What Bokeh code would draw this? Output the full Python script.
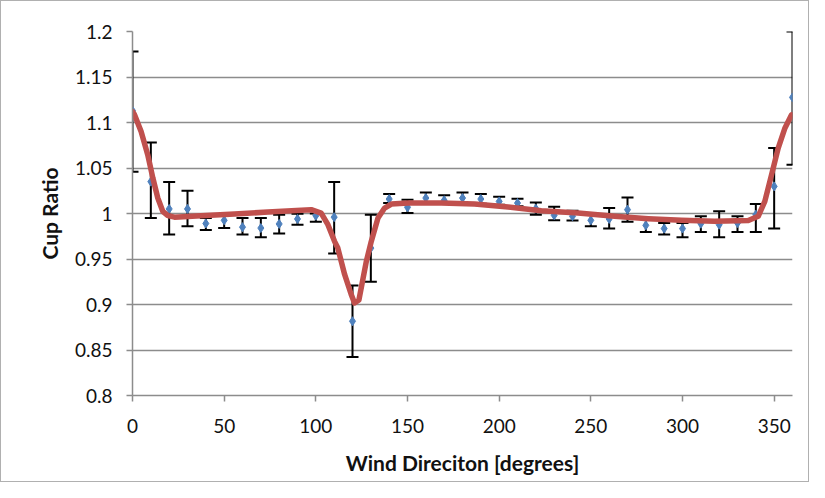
from bokeh.plotting import figure
from bokeh.models import ColumnDataSource, Whisker, TeeHead, FixedTicker, Range1d
from bokeh.embed import file_html
from bokeh.resources import INLINE

# measured points (wind direction, cup ratio, error bar upper/lower)
direction = [0, 10, 20, 30, 40, 50, 60, 70, 80, 90, 100, 110, 120, 130, 140, 150, 160, 170, 180,
             190, 200, 210, 220, 230, 240, 250, 260, 270, 280, 290, 300, 310, 320, 330, 340, 350, 360]
ratio = [1.113, 1.035, 1.005, 1.005, 0.989, 0.9925, 0.985, 0.984, 0.9885, 0.994, 0.9976, 0.996, 0.8816,
         0.962, 1.0159, 1.0068, 1.017, 1.0145, 1.017, 1.0159, 1.0133, 1.0115, 1.0053, 0.998, 0.9969,
         0.9925, 0.994, 1.0042, 0.987, 0.9834, 0.9834, 0.9888, 0.9877, 0.9895, 0.9987, 1.0298, 1.1276]
err_upper = [1.178, 1.078, 1.0345, 1.025, 0.995, 0.9987, 0.995, 0.995, 0.9987, 0.9998, 1.0, 1.0345, 0.921,
             0.9987, 1.0214, 1.0152, 1.023, 1.02, 1.023, 1.0214, 1.0185, 1.0163, 1.012, 1.0075, 1.0031,
             0.9987, 1.006, 1.0177, 0.995, 0.9895, 0.9895, 0.9969, 1.0024, 0.9969, 1.0104, 1.0719, 1.2]
err_lower = [1.046, 0.995, 0.977, 0.986, 0.982, 0.984, 0.977, 0.974, 0.978, 0.9877, 0.991, 0.956, 0.8424,
             0.925, 1.0115, 1.0005, 1.0126, 1.0115, 1.0115, 1.0108, 1.0097, 1.0079, 0.9987, 0.9925, 0.9922,
             0.9859, 0.9834, 0.991, 0.9797, 0.9768, 0.974, 0.9797, 0.974, 0.9797, 0.9797, 0.9834, 1.0536]

# fitted curve
fit_dir = [0, 1, 4.7, 8.3, 11.1, 13.8, 16.5, 19.3, 22.9, 37.4, 55.6, 73.8, 92, 97.5, 102.9, 106.6, 110.2,
           112, 115.7, 119.3, 121.1, 123.5, 127.5, 130.2, 133.9, 137.5, 141.2, 150.3, 168.4, 186.6,
           204.9, 223, 243, 263, 281.3, 299.5, 317.6, 335.9, 341.3, 344.9, 348.6, 352.2, 355.9, 359.5]
fit_ratio = [1.112, 1.109, 1.090, 1.0646, 1.039, 1.017, 1.0024, 0.9976, 0.996, 0.9976, 0.9994, 1.0016,
             1.0035, 1.0042, 1.0005, 0.9877, 0.9694, 0.962, 0.933, 0.911, 0.9017, 0.905, 0.947, 0.969,
             0.995, 1.006, 1.0104, 1.0115, 1.0115, 1.0104, 1.0071, 1.0031, 1.0005, 0.9969, 0.9943,
             0.9925, 0.9914, 0.9922, 0.9969, 1.0133, 1.0427, 1.0719, 1.094, 1.1085]

x_ticks = [0, 50, 100, 150, 200, 250, 300, 350]
y_ticks = [0.8, 0.85, 0.9, 0.95, 1.0, 1.05, 1.1, 1.15, 1.2]
y_tick_labels = ["0.8", "0.85", "0.9", "0.95", "1", "1.05", "1.1", "1.15", "1.2"]

FONT = "Lato"
GRID = "#8c8c8c"

p = figure(width=809, height=482, output_backend="svg", toolbar_location=None,
           x_range=Range1d(0, 360), y_range=Range1d(0.8, 1.2),
           min_border_left=131, min_border_right=18, min_border_top=30, min_border_bottom=88,
           styles={"border": "1px solid #b0b0b0", "box-sizing": "border-box"})
p.outline_line_color = None
p.background_fill_color = "white"
p.border_fill_color = "white"

p.xgrid.grid_line_color = None
p.ygrid.grid_line_color = GRID
p.ygrid.grid_line_width = 1.5

p.xaxis.ticker = FixedTicker(ticks=x_ticks)
p.yaxis.ticker = FixedTicker(ticks=y_ticks)
p.yaxis.major_label_overrides = {t: l for t, l in zip(y_ticks, y_tick_labels)}
p.xaxis.minor_tick_line_color = None
p.yaxis.minor_tick_line_color = None
for ax in (p.xaxis, p.yaxis):
    ax.axis_line_color = GRID
    ax.axis_line_width = 1.5
    ax.major_tick_line_color = GRID
    ax.major_tick_line_width = 1.5
    ax.major_tick_out = 6
    ax.major_tick_in = 0
    ax.major_label_text_font = FONT
    ax.major_label_text_font_size = "19px"
    ax.major_label_text_color = "#111111"
    ax.axis_label_text_font = FONT
    ax.axis_label_text_font_size = "21px"
    ax.axis_label_text_font_style = "bold"
    ax.axis_label_text_color = "#111111"
p.xaxis.major_label_standoff = 17
p.yaxis.major_label_standoff = 14
p.xaxis.axis_label = "Wind Direciton [degrees]"
p.yaxis.axis_label = "Cup Ratio"
p.xaxis.axis_label_standoff = 14
p.yaxis.axis_label_standoff = 10

src = ColumnDataSource(dict(x=direction, y=ratio, upper=err_upper, lower=err_lower))

whisk = Whisker(base="x", upper="upper", lower="lower", source=src, dimension="height",
                line_color="black", line_width=2,
                upper_head=TeeHead(size=12, line_color="black", line_width=2),
                lower_head=TeeHead(size=12, line_color="black", line_width=2))
p.add_layout(whisk)

p.scatter("x", "y", source=src, marker="diamond", size=9, fill_color="#4F81BD",
          line_color="#4F81BD")

p.line(fit_dir, fit_ratio, line_color="#C0504D", line_width=5.5, line_join="round", line_cap="round")

open("out.html", "w").write(file_html(p, INLINE))
